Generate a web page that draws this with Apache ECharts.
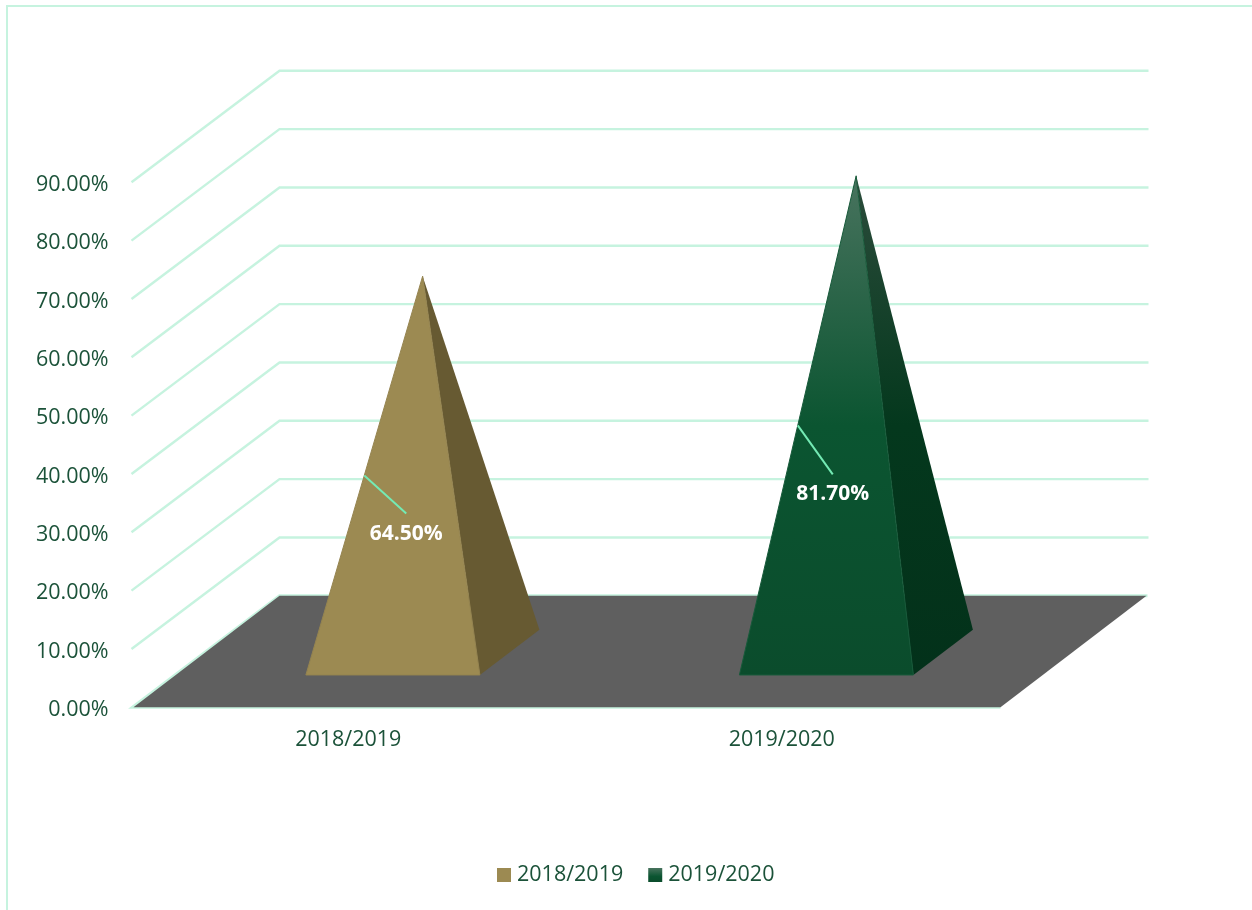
<!DOCTYPE html>
<html>
<head>
<meta charset="utf-8">
<title>2018/2019 and 2019/2020</title>
<style>
  html, body { margin: 0; padding: 0; background: #fff; }
  #chart { width: 1252px; height: 910px; }
</style>
<script src="https://cdn.jsdelivr.net/npm/echarts@6/dist/echarts.min.js"></script>
</head>
<body>
<div id="chart"></div>
<script>
// Values
const categories = ['2018/2019', '2019/2020'];
const seasonValues = [64.5, 81.7];
const yTicks = [10, 20, 30, 40, 50, 60, 70, 80, 90];

// Oblique projection of the chart's depth axis, in pixels
const DEPTH_X = 147;
const DEPTH_Y = 111.5;
const BASE_FRONT = 0.29;
const BASE_BACK = 0.695;
const BASE_MID = (BASE_FRONT + BASE_BACK) / 2;
const BASE_HALF_WIDTH = 87;

// Callout leader ends, relative to the middle of each pyramid's left edge
const calloutOffsets = [[42, 38], [35, 49]];

const FONT = '"Open Sans", sans-serif';
const FONT_SIZE = 21.5;
const TEXT_COLOR = '#1b5239';
const GRID_COLOR = '#c6f3df';
const { LinearGradient } = echarts.graphic;

const seasonStyles = [
  {
    front: '#9c8a52',
    side: '#675a32',
    edge: '#958450',
    legend: '#9c8a52'
  },
  {
    front: new LinearGradient(0, 0, 0, 1, [
      { offset: 0, color: '#48735e' },
      { offset: 0.5, color: '#0b5531' },
      { offset: 1, color: '#0b4c2c' }
    ]),
    side: new LinearGradient(0, 0, 0, 1, [
      { offset: 0, color: '#2b4c3b' },
      { offset: 0.5, color: '#04381d' },
      { offset: 1, color: '#03311a' }
    ]),
    edge: '#175a3a',
    legend: new LinearGradient(0, 0, 0, 1, [
      { offset: 0, color: '#48735e' },
      { offset: 0.6, color: '#0b5531' },
      { offset: 1, color: '#0b4c2c' }
    ])
  }
];

// Back-wall gridlines: a diagonal along the side wall, then across the back
function renderWallLine(params, api) {
  const sys = params.coordSys;
  const y = api.coord([0, api.value(0)])[1];
  return {
    type: 'polyline',
    shape: {
      points: [
        [sys.x - 2, y],
        [sys.x + DEPTH_X - 1, y - DEPTH_Y],
        [sys.x + sys.width + DEPTH_X + 1, y - DEPTH_Y]
      ]
    },
    style: { fill: 'none', stroke: GRID_COLOR, lineWidth: 2.4 }
  };
}

function renderFloor(params, api) {
  const sys = params.coordSys;
  const y = api.coord([0, 0])[1];
  const left = sys.x;
  const right = sys.x + sys.width;
  return {
    type: 'group',
    children: [
      {
        type: 'polyline',
        shape: {
          points: [
            [right + DEPTH_X, y - DEPTH_Y],
            [left + DEPTH_X - 1, y - DEPTH_Y],
            [left - 1, y],
            [right, y]
          ]
        },
        style: { fill: 'none', stroke: GRID_COLOR, lineWidth: 3 }
      },
      {
        type: 'polygon',
        shape: {
          points: [
            [left, y],
            [right, y],
            [right + DEPTH_X - 1, y - DEPTH_Y],
            [left + DEPTH_X - 1, y - DEPTH_Y]
          ]
        },
        style: { fill: '#5f5f5f' }
      }
    ]
  };
}

function renderPyramid(seasonIndex) {
  return function (params, api) {
    const value = api.value(1);
    const origin = api.coord([api.value(0), 0]);
    const top = api.coord([api.value(0), value]);
    const style = seasonStyles[seasonIndex];

    const frontX = origin[0] + BASE_FRONT * DEPTH_X;
    const frontY = origin[1] - BASE_FRONT * DEPTH_Y;
    const fl = [frontX - BASE_HALF_WIDTH, frontY];
    const fr = [frontX + BASE_HALF_WIDTH, frontY];
    const br = [
      origin[0] + BASE_BACK * DEPTH_X + BASE_HALF_WIDTH,
      origin[1] - BASE_BACK * DEPTH_Y
    ];
    const apex = [top[0] + BASE_MID * DEPTH_X, top[1] - BASE_MID * DEPTH_Y];

    const start = [(fl[0] + apex[0]) / 2, (fl[1] + apex[1]) / 2];
    const offset = calloutOffsets[seasonIndex];
    const end = [start[0] + offset[0], start[1] + offset[1]];

    return {
      type: 'group',
      children: [
        {
          type: 'polygon',
          shape: { points: [fr, br, apex] },
          style: { fill: style.side }
        },
        {
          type: 'polygon',
          shape: { points: [fl, fr, apex] },
          style: { fill: style.front, stroke: style.edge, lineWidth: 1, lineJoin: 'round' }
        },
        {
          type: 'line',
          shape: { x1: start[0], y1: start[1], x2: end[0], y2: end[1] },
          style: { stroke: '#74eab4', lineWidth: 2 }
        },
        {
          type: 'text',
          style: {
            x: end[0],
            y: end[1] + 20,
            text: value.toFixed(2) + '%',
            fill: '#ffffff',
            font: 'bold 21px ' + FONT,
            align: 'center',
            verticalAlign: 'middle'
          }
        }
      ]
    };
  };
}

const chart = echarts.init(document.getElementById('chart'), null, { renderer: 'canvas' });

chart.setOption({
  animation: false,
  backgroundColor: '#ffffff',
  graphic: [
    {
      type: 'polyline',
      silent: true,
      shape: { points: [[7, 910], [7, 6], [1252, 6]] },
      style: { fill: 'none', stroke: GRID_COLOR, lineWidth: 2 }
    }
  ],
  grid: { left: 133.5, top: 182.3, width: 867, height: 525 },
  legend: {
    data: categories,
    left: 492,
    top: 859,
    icon: 'rect',
    itemWidth: 14,
    itemHeight: 14,
    itemGap: 25,
    textStyle: { color: TEXT_COLOR, fontFamily: FONT, fontSize: FONT_SIZE, padding: [0, 0, 0, 1] }
  },
  xAxis: {
    type: 'category',
    data: categories,
    axisLine: { show: false },
    axisTick: { show: false },
    axisLabel: {
      color: TEXT_COLOR,
      fontFamily: FONT,
      fontSize: FONT_SIZE,
      margin: 22,
      padding: [0, 4, 0, 0]
    }
  },
  yAxis: {
    type: 'value',
    min: 0,
    max: 90,
    interval: 10,
    axisLine: { show: false },
    axisTick: { show: false },
    splitLine: { show: false },
    axisLabel: {
      color: TEXT_COLOR,
      fontFamily: FONT,
      fontSize: FONT_SIZE,
      margin: 25,
      verticalAlign: 'top',
      lineHeight: 5,
      formatter: (v) => v.toFixed(2) + '%'
    }
  },
  series: [
    {
      type: 'custom',
      silent: true,
      z: 1,
      data: yTicks.map((t) => [t]),
      encode: { y: 0 },
      renderItem: renderWallLine
    },
    {
      type: 'custom',
      silent: true,
      z: 2,
      data: [[0]],
      encode: { y: 0 },
      renderItem: renderFloor
    },
    ...categories.map((name, i) => ({
      name: name,
      type: 'custom',
      z: 3,
      data: [[i, seasonValues[i]]],
      encode: { x: 0, y: 1 },
      itemStyle: { color: seasonStyles[i].legend },
      renderItem: renderPyramid(i)
    }))
  ]
});
</script>
</body>
</html>
